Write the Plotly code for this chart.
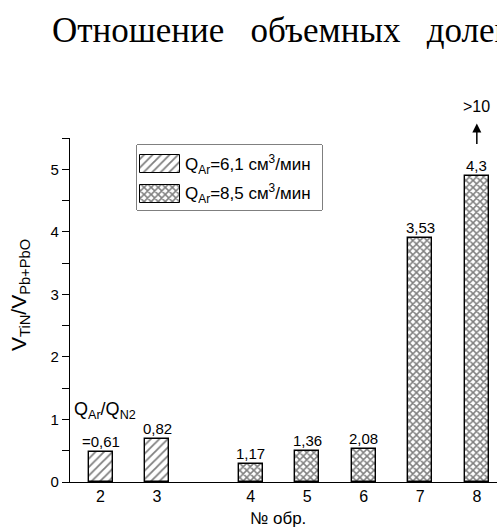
import plotly.graph_objects as go

# ---- data ----
samples = ["2", "3", "4", "5", "6", "7", "8"]
v_ratio = [0.48, 0.69, 0.29, 0.50, 0.53, 3.90, 4.89]
q_ratio_labels = ["=0,61", "0,82", "1,17", "1,36", "2,08", "3,53", "4,3"]
flow_series = ["6,1", "6,1", "8,5", "8,5", "8,5", "8,5", "8,5"]
flow_levels = ["6,1", "8,5"]
y_tick_vals = [0, 1, 2, 3, 4, 5]
overflow_label = ">10"

# ---- layout helpers (positions) ----
xpos = []
p = 1.0
for i, s in enumerate(samples):
    xpos.append(p)
    p += 1.66 if s == "3" else 1.0

FONT = "Liberation Sans, Arial, sans-serif"
patterns = {"6,1": dict(shape="/", size=6, solidity=0.3),
            "8,5": dict(shape="x", size=5, solidity=0.52)}

def px_x(px):
    return (px - 70) / 427

def px_y(py):
    return (482 - py) / 344

fig = go.Figure()
for q in flow_levels:
    idx = [i for i, f in enumerate(flow_series) if f == q]
    fig.add_trace(go.Bar(
        x=[xpos[i] for i in idx],
        y=[v_ratio[i] for i in idx],
        width=0.425,
        name=f"Q<sub>Ar</sub>={q} см<sup>3</sup>/мин",
        showlegend=False,
        marker=dict(color="white",
                    line=dict(color="black", width=1.4),
                    pattern=dict(fgcolor="black", bgcolor="white", fillmode="overlay", **patterns[q])),
    ))

# ---- legend keys drawn as swatch bars on an inset axis ----
leg_rows = list(range(len(flow_levels)))
for r, q in zip(leg_rows, flow_levels):
    fig.add_trace(go.Bar(
        xaxis="x2", yaxis="y2", orientation="h",
        y=[r], x=[40], base=[3], width=0.62,
        showlegend=False, hoverinfo="skip",
        marker=dict(color="white", line=dict(color="black", width=1),
                    pattern=dict(fgcolor="black", bgcolor="white", fillmode="overlay", **patterns[q])),
    ))

annotations = []
for i, (xp, v, lab) in enumerate(zip(xpos, v_ratio, q_ratio_labels)):
    annotations.append(dict(x=xp, y=v, xref="x", yref="y", text=lab, showarrow=False,
                            yanchor="bottom", yshift=0, font=dict(family=FONT, size=15, color="black")))

for r, q in zip(leg_rows, flow_levels):
    annotations.append(dict(x=46, y=r, xref="x2", yref="y2", xanchor="left", yanchor="middle",
                            text=f"Q<sub>Ar</sub>={q} см<sup>3</sup>/мин", showarrow=False,
                            font=dict(family=FONT, size=17, color="black")))

# Q_Ar/Q_N2 header above first bar
annotations.append(dict(x=xpos[0] + 0.08, y=1.15, xref="x", yref="y",
                        text="Q<sub>Ar</sub>/Q<sub>N2</sub>", showarrow=False,
                        font=dict(family=FONT, size=18, color="black")))
# overflow arrow for the last bar
annotations.append(dict(x=xpos[-1], y=5.73, xref="x", yref="y", ax=xpos[-1], ay=5.38,
                        axref="x", ayref="y", showarrow=True, arrowhead=2, arrowsize=1.2,
                        arrowwidth=1.5, arrowcolor="black", text=""))
annotations.append(dict(x=xpos[-1], y=px_y(106), xref="x", yref="paper", yanchor="middle",
                        text=overflow_label, showarrow=False,
                        font=dict(family=FONT, size=16, color="black")))
# axis titles
annotations.append(dict(x=px_x(20), y=px_y(295), xref="paper", yref="paper",
                        xanchor="center", yanchor="middle", textangle=-90,
                        text="V<sub>TiN</sub>/V<sub>Pb+PbO</sub>", showarrow=False,
                        font=dict(family=FONT, size=21, color="black")))
annotations.append(dict(x=px_x(278), y=px_y(518), xref="paper", yref="paper",
                        xanchor="center", yanchor="middle", text="№ обр.",
                        showarrow=False, font=dict(family=FONT, size=17, color="black")))
# document text line above the chart
annotations.append(dict(x=px_x(50), y=px_y(30), xref="paper", yref="paper",
                        xanchor="left", yanchor="middle",
                        text="Отношение   объемных   долей", showarrow=False,
                        font=dict(family="Liberation Serif, Times New Roman, serif", size=35, color="black")))

fig.update_layout(
    width=497, height=530,
    margin=dict(l=70, r=0, t=138, b=48),
    paper_bgcolor="white", plot_bgcolor="white",
    font=dict(family=FONT, size=14, color="black"),
    bargap=0,
    showlegend=False,
    annotations=annotations,
    shapes=[dict(type="rect", xref="paper", yref="paper",
                 x0=px_x(137), x1=px_x(322), y0=px_y(210), y1=px_y(145),
                 line=dict(color="black", width=1), fillcolor="white", layer="below")],
    xaxis=dict(range=[0.46, 8.017], tickvals=xpos, ticktext=samples, showline=True,
               linecolor="black", linewidth=1.4, ticks="", showgrid=False, zeroline=False,
               tickfont=dict(family=FONT, size=16)),
    yaxis=dict(range=[0, 5.5], tickvals=y_tick_vals, ticks="outside", ticklen=7, tickwidth=1,
               tickcolor="black", showline=True, linecolor="black", linewidth=1.4,
               showgrid=False, zeroline=False, tickfont=dict(family=FONT, size=15),
               minor=dict(tickvals=[0.5, 1.5, 2.5, 3.5, 4.5, 5.5], ticks="outside", ticklen=7,
                          tickcolor="black", tickwidth=1, showgrid=False)),
    xaxis2=dict(domain=[px_x(137), px_x(322)], range=[0, 185], anchor="y2", visible=False,
                fixedrange=True),
    yaxis2=dict(domain=[px_y(210), px_y(145)], range=[1.56, -0.66], anchor="x2", visible=False,
                fixedrange=True),
)

fig.write_html("out.html")
